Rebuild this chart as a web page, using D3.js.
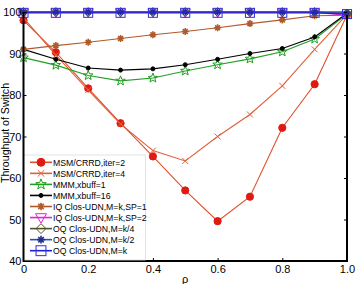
<!DOCTYPE html>
<html><head><meta charset="utf-8">
<script src="https://cdn.jsdelivr.net/npm/d3@7"></script>
<style>body{margin:0;background:#fff}svg{display:block}</style>
</head><body><svg id="c" width="364" height="284"></svg>
<script>
const loads = [0,0.1,0.2,0.3,0.4,0.5,0.6,0.7,0.8,0.9,1.0];
const msm2  = [98.0,90.3,81.6,73.2,65.2,57.0,49.6,55.5,72.1,82.6,99.3];
const msm4  = [98.6,89.6,81.2,73.0,66.6,64.1,70.0,75.3,82.2,91.0,99.4];
const mmm1  = [89.0,87.2,84.7,83.4,84.1,85.8,87.3,88.7,90.4,93.5,99.5];
const mmm16 = [91.0,88.6,86.5,86.0,86.3,87.3,88.6,90.0,91.2,94.0,99.7];
const iq1   = [91.0,91.9,92.7,93.6,94.5,95.3,96.2,97.2,98.1,99.1,99.2];
const iq2   = [99.9,99.9,99.9,99.9,99.9,99.9,99.9,99.9,99.9,99.9,99.2];
const oq4   = [100,100,100,100,100,100,100,100,100,100,99.6];
const oq2   = [100,100,100,100,100,100,100,100,100,100,99.7];
const oqk   = [99.8,99.8,99.8,99.8,99.8,99.8,99.8,99.8,99.8,99.8,99.5];
const names = ["MSM/CRRD,iter=2","MSM/CRRD,iter=4","MMM,xbuff=1","MMM,xbuff=16","IQ Clos-UDN,M=k,SP=1","IQ Clos-UDN,M=k,SP=2","OQ Clos-UDN,M=k/4","OQ Clos-UDN,M=k/2","OQ Clos-UDN,M=k"];
const xTicks = [0,0.2,0.4,0.6,0.8,1.0];
const yTicks = [40,50,60,70,80,90,100];

const series = [
  {v:msm2, line:"#e0502a", mk:"circle", fill:"#e01a10", stroke:"#e01a10", s:3.6},
  {v:msm4, line:"#e0603a", mk:"x", fill:"none", stroke:"#e0603a", s:3},
  {v:mmm1, line:"#20a020", mk:"star", fill:"none", stroke:"#20a020", s:5},
  {v:mmm16, line:"#000000", mk:"dot", fill:"#000", stroke:"#000", s:2},
  {v:iq1, line:"#b05a2a", mk:"ast", fill:"none", stroke:"#b05a2a", s:3.5},
  {v:iq2, line:"#e020e0", mk:"tri", fill:"none", stroke:"#e020e0", s:5},
  {v:oq4, line:"#505030", mk:"diamond", fill:"none", stroke:"#555520", s:4.5},
  {v:oq2, line:"#3050b0", mk:"ast", fill:"none", stroke:"#203090", s:3.5},
  {v:oqk, line:"#2020d0", mk:"square", fill:"none", stroke:"#3030e0", s:4.5}
];

const L=23.5, R=347, T=12, B=261;
const x = d3.scaleLinear().domain([0,1]).range([L,R]);
const y = d3.scaleLinear().domain([40,100]).range([B,T]);
const svg = d3.select("#c");
const font = "Liberation Sans, Arial, sans-serif";

function marker(g, kind, s, fill, stroke){
  let p;
  if(kind==="circle"){ p=g.append("circle").attr("r",s); }
  else if(kind==="dot"){ p=g.append("circle").attr("r",s); }
  else if(kind==="square"){ p=g.append("rect").attr("x",-s).attr("y",-s).attr("width",2*s).attr("height",2*s); }
  else if(kind==="diamond"){ p=g.append("path").attr("d",`M0,${-s}L${s},0L0,${s}L${-s},0Z`); }
  else if(kind==="tri"){ p=g.append("path").attr("d",`M${-s},${-s*0.7}L${s},${-s*0.7}L0,${s}Z`); }
  else if(kind==="star"){
    let d=""; for(let i=0;i<10;i++){const r=i%2?s*0.42:s; const a=-Math.PI/2+i*Math.PI/5; d+=(i?"L":"M")+(r*Math.cos(a)).toFixed(2)+","+(r*Math.sin(a)).toFixed(2);} p=g.append("path").attr("d",d+"Z");
  }
  else if(kind==="x"){ p=g.append("path").attr("d",`M${-s},${-s}L${s},${s}M${-s},${s}L${s},${-s}`); }
  else if(kind==="ast"){ const a=s*0.7; p=g.append("path").attr("d",`M${-s},0L${s},0M0,${-s}L0,${s}M${-a},${-a}L${a},${a}M${-a},${a}L${a},${-a}`).attr("stroke-width",1.6); }
  p.attr("fill",fill).attr("stroke",stroke);
  if(!p.attr("stroke-width")) p.attr("stroke-width",1);
}

// axes box
svg.append("rect").attr("x",L).attr("y",T).attr("width",R-L).attr("height",B-T).attr("fill","#fff").attr("stroke","#000").attr("stroke-width",1);
const line = d3.line().x((d,i)=>x(loads[i])).y(d=>y(d));
series.forEach(s=>{
  svg.append("path").attr("d",line(s.v)).attr("fill","none").attr("stroke",s.line).attr("stroke-width",1.1);
  s.v.forEach((d,i)=>{ const g=svg.append("g").attr("transform",`translate(${x(loads[i])},${y(d)})`); marker(g,s.mk,s.s,s.fill,s.stroke); });
});

// axes
svg.append("line").attr("x1",R).attr("x2",R).attr("y1",T+3).attr("y2",B+1).attr("stroke","#000").attr("stroke-width",2);
svg.append("line").attr("x1",L).attr("x2",R+1).attr("y1",B).attr("y2",B).attr("stroke","#000").attr("stroke-width",2);

const ax = svg.append("g").attr("transform",`translate(0,${B})`).call(d3.axisBottom(x).tickValues(xTicks).tickSizeInner(-3).tickSizeOuter(0).tickPadding(4).tickFormat(d3.format(".1f")));
ax.selectAll(".tick text").text(d=>d===0?"0":d3.format(".1f")(d));
const ay = svg.append("g").attr("transform",`translate(${L},0)`).call(d3.axisLeft(y).tickValues(yTicks).tickSizeInner(-3).tickSizeOuter(0).tickPadding(2));
const ar = svg.append("g").attr("transform",`translate(${R},0)`).call(d3.axisRight(y).tickValues(yTicks).tickSizeInner(-3).tickSizeOuter(0).tickFormat(""));
[ax,ay,ar].forEach(a=>{a.select(".domain").remove(); a.selectAll("text").attr("font-family",font).attr("font-size",11).attr("fill","#000");});

// legend
const lg = svg.append("g");
lg.append("rect").attr("x",L).attr("y",155).attr("width",122).attr("height",105).attr("fill","#fff").attr("stroke","#ddd").attr("stroke-width",0.8);
series.forEach((s,i)=>{
  const yy = 162.3 + i*11.05;
  lg.append("line").attr("x1",30).attr("x2",52).attr("y1",yy).attr("y2",yy).attr("stroke",s.line).attr("stroke-width",1.6);
  const g=lg.append("g").attr("transform",`translate(41,${yy})`); marker(g,s.mk,s.mk==="dot"?2:s.s*1.1,s.fill,s.stroke);
  lg.append("text").attr("x",53).attr("y",yy+3.2).attr("font-family",font).attr("font-size",8.7).text(names[i]);
});
svg.append("line").attr("x1",L).attr("x2",L).attr("y1",T).attr("y2",B+1).attr("stroke","#000").attr("stroke-width",2);

// labels
svg.append("text").attr("transform",`translate(8.5,133) rotate(-90)`).attr("text-anchor","middle").attr("font-family",font).attr("font-size",10.6).text("Throughput of Switch");
svg.append("text").attr("x",x(0.5)).attr("y",283).attr("text-anchor","middle").attr("font-family",font).attr("font-size",11).text("ρ");
</script></body></html>
